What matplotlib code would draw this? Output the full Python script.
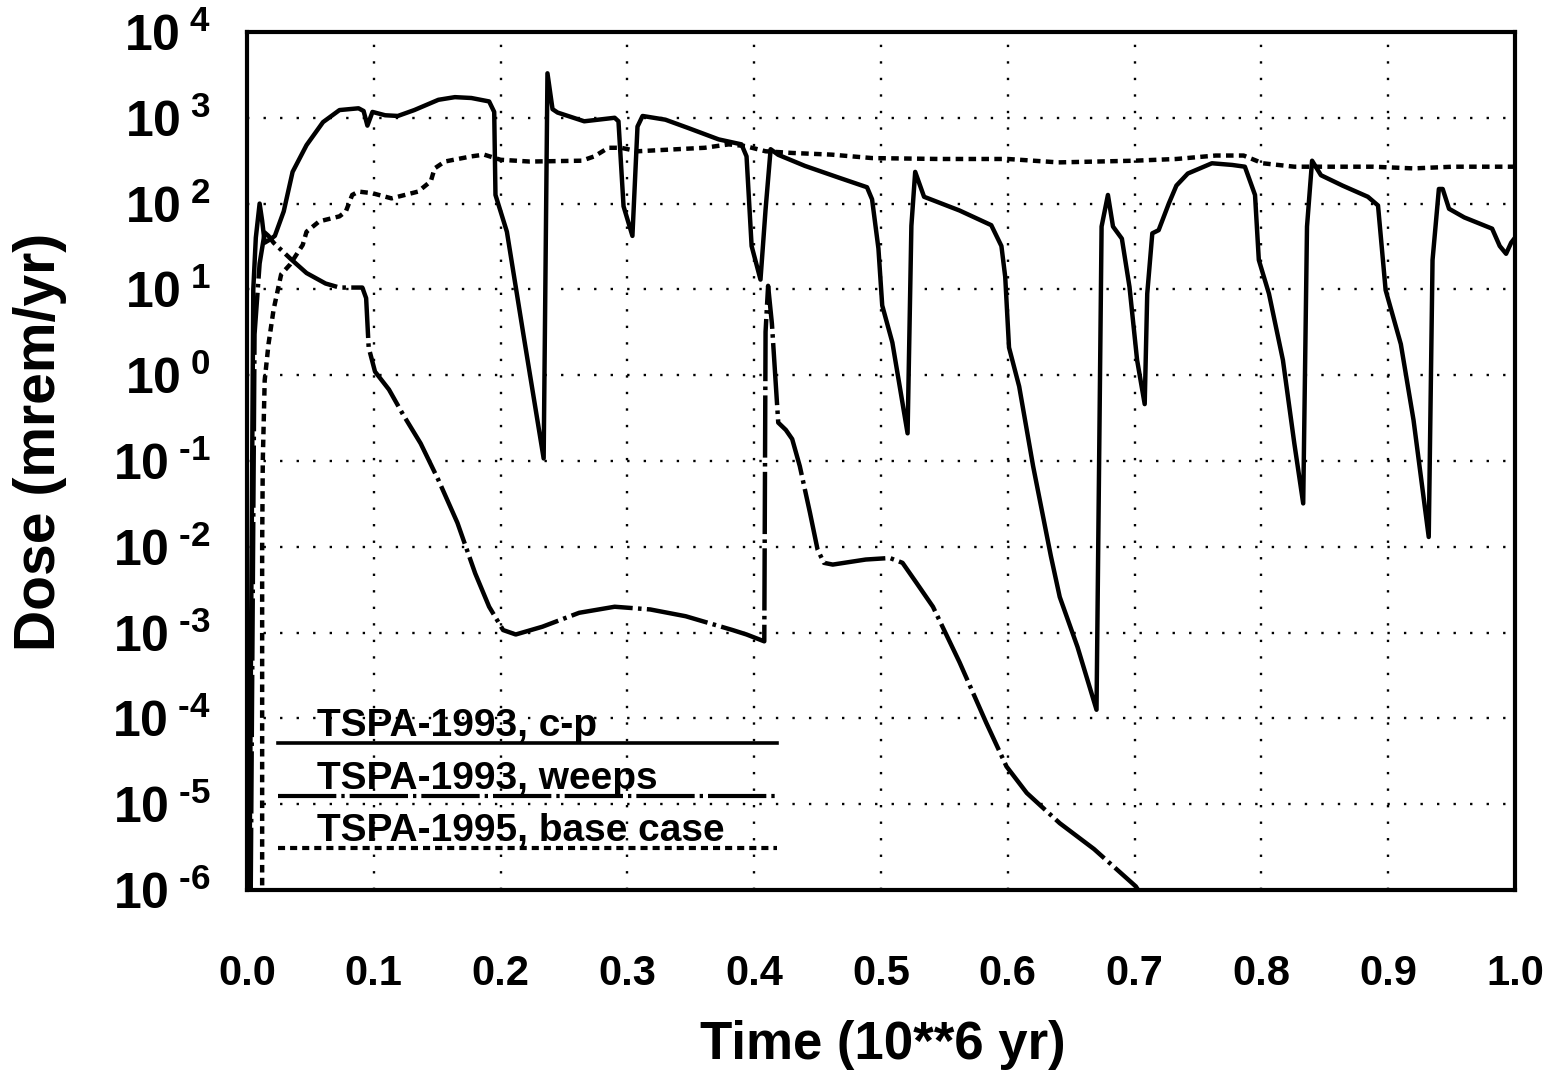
import numpy as np
import matplotlib
matplotlib.use('Agg')
import matplotlib.pyplot as plt

plt.rcParams['font.family'] = ['Liberation Sans', 'DejaVu Sans']
plt.rcParams['font.weight'] = 'bold'
plt.rcParams['mathtext.fontset'] = 'custom'
plt.rcParams['mathtext.rm'] = 'Liberation Sans:bold'
plt.rcParams['mathtext.it'] = 'Liberation Sans:bold'
plt.rcParams['mathtext.bf'] = 'Liberation Sans:bold'

# TSPA-1993, c-p (solid)
cp_t = [0.002, 0.005, 0.007, 0.010, 0.012, 0.014, 0.018, 0.022, 0.029, 0.036,
        0.047, 0.060, 0.073, 0.088, 0.092, 0.095, 0.099, 0.109, 0.119, 0.132,
        0.151, 0.164, 0.177, 0.191, 0.195, 0.196, 0.205, 0.218, 0.234, 0.237,
        0.241, 0.245, 0.266, 0.290, 0.293, 0.297, 0.304, 0.308, 0.312, 0.330,
        0.348, 0.372, 0.390, 0.394, 0.398, 0.405, 0.409, 0.413, 0.419, 0.440,
        0.467, 0.489, 0.493, 0.498, 0.501, 0.509, 0.521, 0.524, 0.527, 0.534,
        0.562, 0.587, 0.595, 0.598, 0.601, 0.609, 0.620, 0.634, 0.641, 0.655,
        0.670, 0.674, 0.679, 0.683, 0.690, 0.696, 0.702, 0.708, 0.710, 0.714,
        0.719, 0.727, 0.733, 0.742, 0.761, 0.777, 0.787, 0.795, 0.798, 0.806,
        0.817, 0.826, 0.833, 0.836, 0.840, 0.847, 0.864, 0.884, 0.892, 0.898,
        0.910, 0.920, 0.932, 0.935, 0.940, 0.943, 0.948, 0.960, 0.982, 0.988,
        0.993, 0.997, 1.000]
cp_dose = [1e-6, 10, 40, 100, 63, 35, 38, 42, 81, 234,
           480, 890, 1230, 1290, 1200, 810, 1170, 1070, 1050, 1230,
           1620, 1740, 1700, 1550, 1170, 126, 47, 3.0, 0.107, 3300,
           1260, 1150, 910, 1000, 910, 93, 42, 790, 1050, 950,
           760, 560, 490, 355, 32, 13, 85, 430, 370, 275,
           200, 155, 112, 30, 6.5, 2.4, 0.21, 55, 234, 120,
           83, 56, 32, 14, 2.1, 0.74, 0.087, 7.8e-3, 2.6e-3, 6.8e-4,
           1.26e-4, 54, 126, 54, 39, 10.7, 1.5, 0.46, 8.9, 45,
           49, 100, 162, 224, 295, 282, 269, 126, 22, 8.9,
           1.5, 0.16, 0.032, 54, 316, 214, 162, 120, 95, 9.8,
           2.3, 0.30, 0.013, 22, 148, 148, 87, 69, 51, 32,
           26, 35, 40]

# TSPA-1993, weeps (dash-dot)
weeps_t = [0.003, 0.006, 0.010, 0.014, 0.017, 0.021, 0.034, 0.047, 0.062, 0.073,
           0.091, 0.094, 0.096, 0.101, 0.112, 0.123, 0.137, 0.151, 0.166, 0.180,
           0.191, 0.202, 0.212, 0.233, 0.262, 0.290, 0.318, 0.346, 0.383, 0.394,
           0.408, 0.409, 0.411, 0.414, 0.419, 0.425, 0.430, 0.436, 0.444, 0.450,
           0.455, 0.462, 0.488, 0.507, 0.517, 0.528, 0.541, 0.562, 0.583, 0.599,
           0.615, 0.641, 0.668, 0.701, 0.705]
weeps_dose = [1e-6, 3, 20, 46, 42, 35, 23, 15.5, 11.7, 10.5,
              10.5, 7.9, 2.1, 1.1, 0.68, 0.35, 0.16, 0.060, 0.019, 4.9e-3,
              2.0e-3, 1.07e-3, 9.5e-4, 1.17e-3, 1.7e-3, 2.0e-3, 1.86e-3, 1.55e-3, 1.07e-3, 9.5e-4,
              7.9e-4, 3.2, 11, 4, 0.28, 0.23, 0.18, 0.087, 0.025, 9.3e-3,
              6.5e-3, 6.2e-3, 7.1e-3, 7.4e-3, 6.5e-3, 3.8e-3, 2.0e-3, 4.5e-4, 8.9e-5, 2.75e-5,
              1.35e-5, 6.0e-6, 3.0e-6, 1.1e-6, 8.9e-7]

# TSPA-1995, base case (dotted)
base_t = [0.012, 0.012, 0.0125, 0.014, 0.017, 0.021, 0.027, 0.034, 0.044, 0.047,
          0.057, 0.073, 0.078, 0.083, 0.088, 0.099, 0.114, 0.135, 0.145, 0.148,
          0.156, 0.177, 0.187, 0.200, 0.223, 0.264, 0.274, 0.285, 0.295, 0.308,
          0.335, 0.361, 0.380, 0.393, 0.409, 0.430, 0.461, 0.493, 0.546, 0.600,
          0.640, 0.700, 0.733, 0.764, 0.786, 0.801, 0.826, 0.857, 0.888, 0.920,
          0.951, 1.000]
base_dose = [8e-7, 0.01, 0.1, 0.87, 2.3, 5.8, 15, 19.5, 33, 47,
             62, 71, 81, 126, 138, 132, 115, 138, 182, 257,
             309, 355, 372, 324, 309, 316, 355, 447, 447, 407,
             427, 447, 490, 468, 407, 389, 372, 339, 331, 331,
             302, 316, 331, 363, 363, 295, 269, 269, 269, 257,
             269, 269]

labels = ['TSPA-1993, c-p', 'TSPA-1993, weeps', 'TSPA-1995, base case']
exps = list(range(-6, 5))
xticks = [0.0, 0.1, 0.2, 0.3, 0.4, 0.5, 0.6, 0.7, 0.8, 0.9, 1.0]

solid = '-'
dashdot = (0, (14, 1.2, 0.8, 1.2))
dotted = (0, (1.7, 1.2))

fig = plt.figure(figsize=(15.57, 10.84), dpi=100)
ax = fig.add_axes([0.1586, 0.179, 0.8144, 0.7915])

ax.plot(cp_t, cp_dose, color='black', lw=3.2, ls=solid)
ax.plot(weeps_t, weeps_dose, color='black', lw=3.2, ls=dashdot)
ax.plot(base_t, base_dose, color='black', lw=3.2, ls=dotted)

ax.set_yscale('log')
ax.set_xlim(0, 1)
ax.set_ylim(1e-6, 1e4)

ax.set_yticks([10.0 ** e for e in exps],
              [r'$10^{\text{ ' + ('-' if e < 0 else '') + str(abs(e)) + '}}$' for e in exps])
ax.set_xticks(xticks, ['%.1f' % v for v in xticks])
ax.minorticks_off()
ax.tick_params(axis='y', length=0, pad=26, labelsize=36)
ax.tick_params(axis='x', length=0, pad=46, labelsize=30)

ax.grid(True, color='black', lw=1.7, ls=(0, (1, 6)))

for s in ax.spines.values():
    s.set_linewidth(3)

# legend drawn as text over lines, like the original
leg_y = [0.1713, 0.1096, 0.0490]
styles = [solid, dashdot, dotted]
for lab, yy, st in zip(labels, leg_y, styles):
    ax.plot([0.0244, 0.418], [yy, yy], transform=ax.transAxes, color='black',
            lw=3 if st != solid else 2.6, ls=st)
    ax.text(0.0552, yy + 0.008, lab, transform=ax.transAxes, fontsize=28,
            fontweight='bold', ha='left', va='baseline')

fig.text(0.567, 0.036, 'Time (10**6 yr)', fontsize=38, fontweight='bold',
         ha='center', va='center')
fig.text(0.026, 0.592, 'Dose (mrem/yr)', fontsize=41, fontweight='bold',
         ha='center', va='center', rotation=90)

fig.savefig('out.png', dpi=100)
